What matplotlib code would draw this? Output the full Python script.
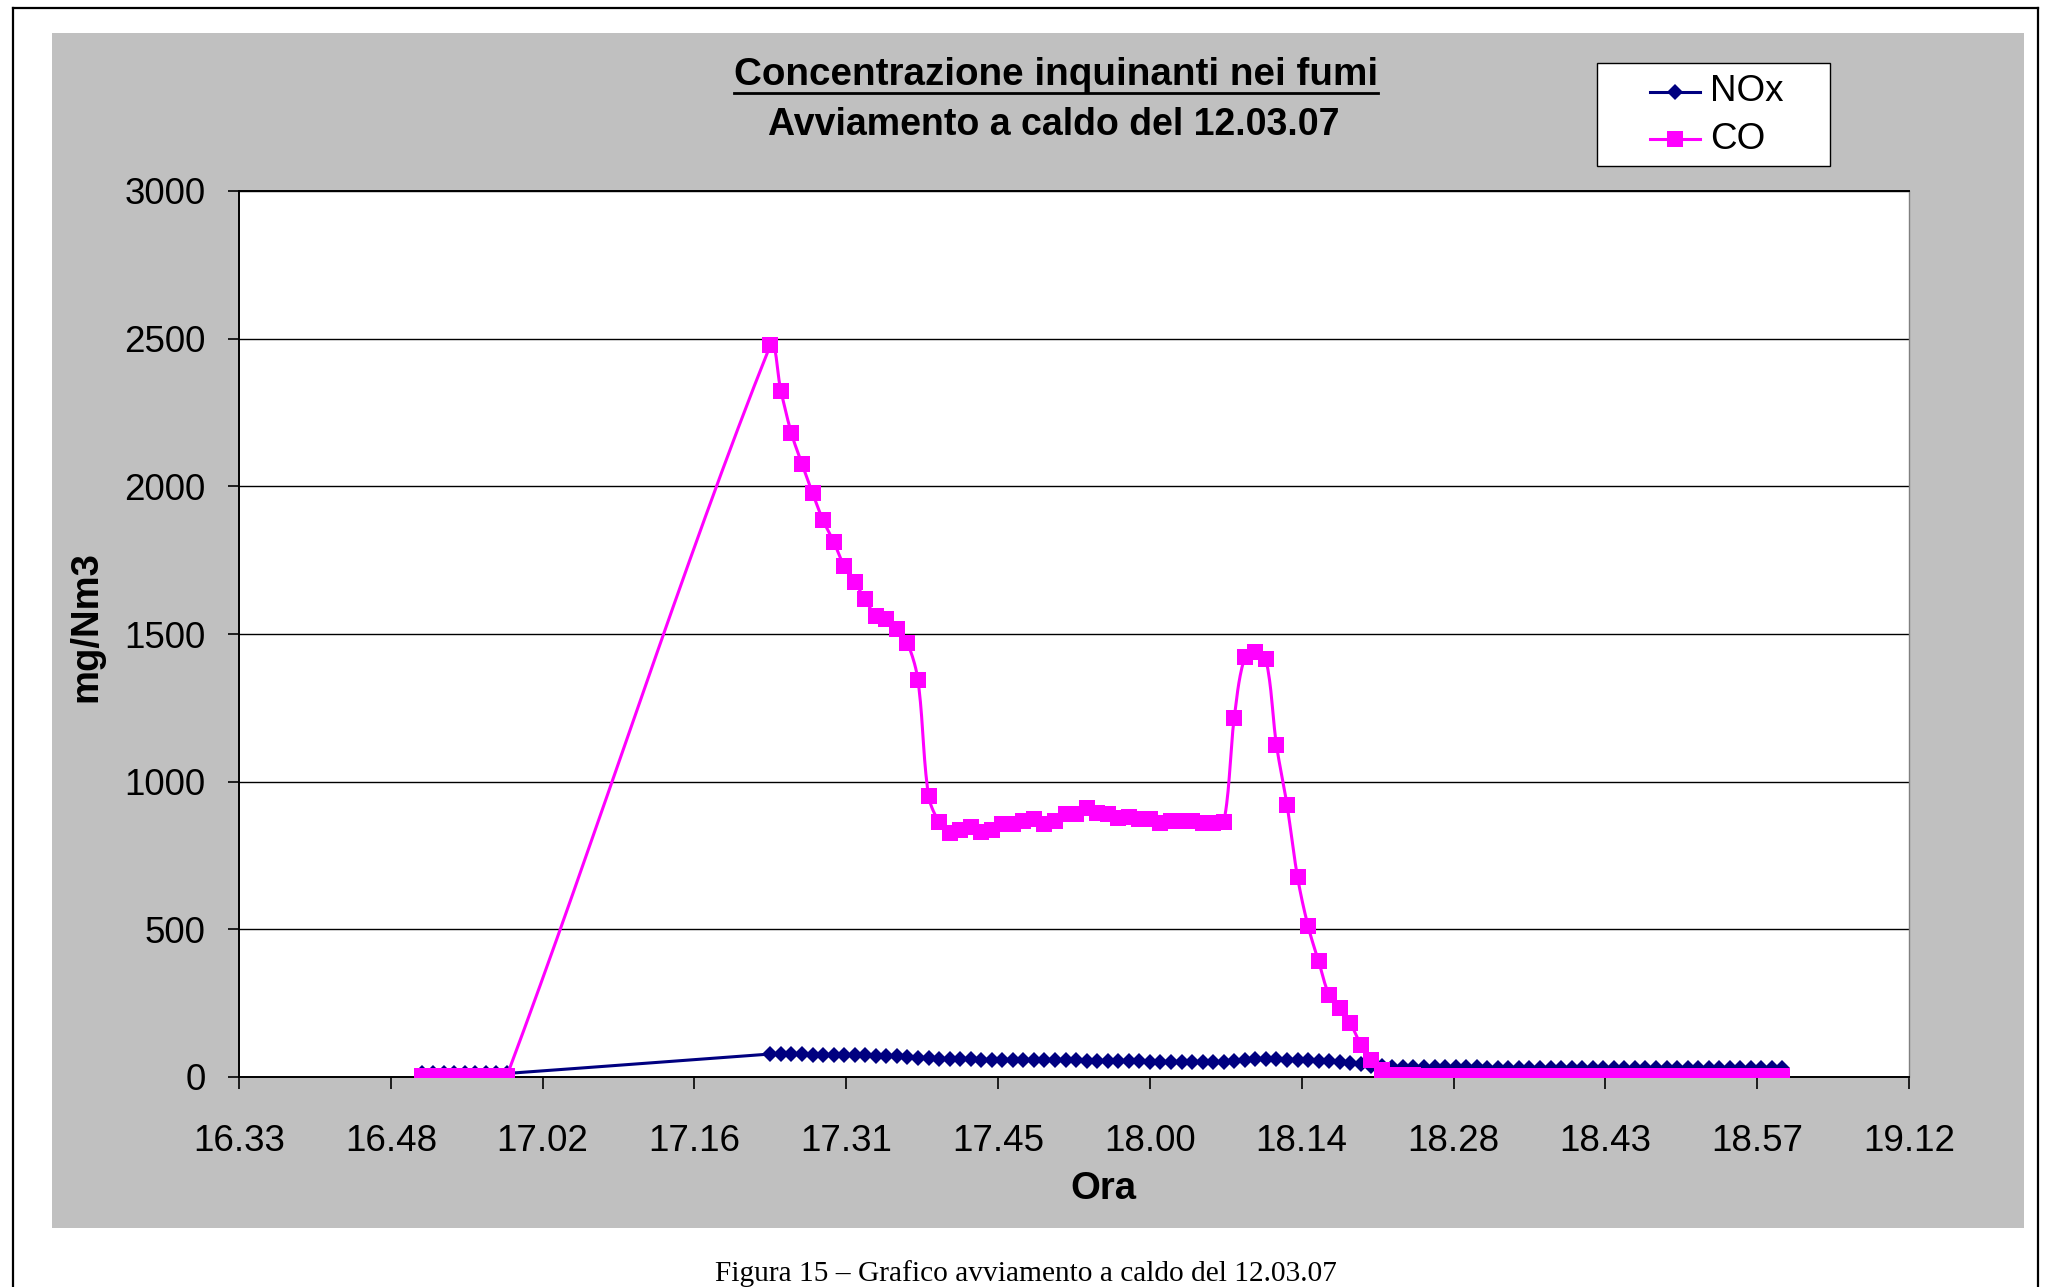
import numpy as np
import matplotlib
matplotlib.use("Agg")
import matplotlib.pyplot as plt
from matplotlib.lines import Line2D
from matplotlib.patches import Rectangle

plt.rcParams['font.family'] = ['Liberation Sans', 'DejaVu Sans']


def hm(s):
    h, m = s.split(':')
    return int(h) * 60 + int(m)


# campionamento ad 1 minuto, due tratti (dati mancanti 17:00 - 17:23)
t_first = np.arange(hm('16:51'), hm('16:59') + 1)
t_main = np.arange(hm('17:24'), hm('19:00') + 1)

nox_first = [13, 14, 13, 13, 12, 12, 13, 12, 12]
co_first = [3, 3, 3, 3, 3, 3, 3, 3, 3]

nox_main = [78, 78, 77, 77, 76, 76, 75,
            74, 73, 73, 72, 72, 70, 68,
            66, 64, 62, 61, 60, 60, 59, 58,
            58, 57, 57, 57, 56, 56, 56, 56, 55, 55, 55, 55, 54, 54,
            52, 52, 52, 52, 52, 51, 51, 51,
            55, 58, 60, 60, 60,
            58, 57, 56, 55, 53, 52, 48, 45,
            36, 36, 35, 35, 34, 34, 34, 33, 33, 33, 33, 32, 32, 32, 32, 32,
            31, 31, 31, 31, 31, 31, 30, 30, 30, 30, 30, 30, 30, 30, 30, 30,
            30, 30, 30, 30, 30, 30, 29, 29]

co_main = [2478, 2322, 2179, 2076, 1977, 1885, 1813,
           1730, 1676, 1617, 1562, 1552, 1518, 1470,
           1343, 953, 863, 827, 838, 846, 829, 837,
           857, 857, 866, 874, 857, 868, 891, 891, 911, 894, 891, 877, 882, 874,
           874, 859, 868, 866, 866, 859, 859, 862,
           1217, 1421, 1438, 1414, 1125,
           922, 677, 511, 392, 277, 232, 183, 110,
           58, 25, 8, 6, 6, 5, 4, 4, 4, 4, 4, 4, 4, 4, 4, 4,
           4, 4, 4, 4, 4, 4, 4, 4, 4, 4, 4, 4, 4, 4, 4, 4,
           4, 4, 4, 4, 4, 4, 4, 4]

xtick_days = [0.69, 0.70, 0.71, 0.72, 0.73, 0.74, 0.75, 0.76, 0.77, 0.78, 0.79, 0.80]
xtick_labels = ['16.33', '16.48', '17.02', '17.16', '17.31', '17.45',
                '18.00', '18.14', '18.28', '18.43', '18.57', '19.12']
yticks = [0, 500, 1000, 1500, 2000, 2500, 3000]

t_all = np.concatenate([t_first, t_main])
nox = np.array(nox_first + nox_main, float)
co = np.array(co_first + co_main, float)


def smooth(x, y, n=16, kx=10.54, ky=0.296):
    # linea smussata tipo Excel: bezier con tangenti pesate sulla lunghezza
    # dei segmenti (in pixel), cosi' non fa anelli sui picchi
    x = np.asarray(x, float)
    y = np.asarray(y, float)
    px, py = x * kx, y * ky
    L = np.hypot(np.diff(px), np.diff(py))
    tt = np.linspace(0, 1, n + 1)[1:]
    xs, ys = [x[0]], [y[0]]
    last = len(x) - 1

    def tangent(i):
        if i == 0:
            return x[1] - x[0], y[1] - y[0], L[0]
        if i == last:
            return x[last] - x[last - 1], y[last] - y[last - 1], L[-1]
        return x[i + 1] - x[i - 1], y[i + 1] - y[i - 1], L[i - 1] + L[i]

    for i in range(last):
        tx0, ty0, s0 = tangent(i)
        tx1, ty1, s1 = tangent(i + 1)
        f0 = L[i] / s0 / 3
        f1 = L[i] / s1 / 3
        c1x, c1y = x[i] + tx0 * f0, y[i] + ty0 * f0
        c2x, c2y = x[i + 1] - tx1 * f1, y[i + 1] - ty1 * f1
        a, b = (1 - tt) ** 3, 3 * (1 - tt) ** 2 * tt
        c, d = 3 * (1 - tt) * tt ** 2, tt ** 3
        xs.extend(a * x[i] + b * c1x + c * c2x + d * x[i + 1])
        ys.extend(a * y[i] + b * c1y + c * c2y + d * y[i + 1])
    return np.array(xs), np.array(ys)


NAVY = '#000080'
MAG = '#FF00FF'

fig = plt.figure(figsize=(20.47, 12.87), dpi=100)
W, H = 2047.0, 1287.0

# sfondo grigio dell'area grafico
fig.add_artist(Rectangle((52 / W, 1 - 1228 / H), (2024 - 52) / W, (1228 - 33) / H,
                         transform=fig.transFigure, facecolor='#C0C0C0',
                         edgecolor='none', zorder=-2))
# cornice della pagina
for xx, yy in [([13 / W, 13 / W], [0, 1 - 8 / H]),
               ([13 / W, 2038 / W], [1 - 8 / H, 1 - 8 / H]),
               ([2038 / W, 2038 / W], [1 - 8 / H, 0])]:
    fig.add_artist(Line2D(xx, yy, transform=fig.transFigure, color='black', lw=1.6))

ax = fig.add_axes([239 / W, 1 - 1077 / H, (1909 - 239) / W, (1077 - 191) / H])
ax.set_facecolor('white')

sx, sy = smooth(t_all, nox)
ax.plot(sx, sy, color=NAVY, lw=2.2, solid_joinstyle='round', zorder=3)
ax.plot(t_all, nox, ls='none', marker='D', ms=8.5, mew=0, color=NAVY, zorder=3)
sx, sy = smooth(t_all, co)
ax.plot(sx, sy, color=MAG, lw=2.2, solid_joinstyle='round', zorder=4)
ax.plot(t_all, co, ls='none', marker='s', ms=11, mew=0, color=MAG, zorder=4)

ax.set_xlim(xtick_days[0] * 1440, xtick_days[-1] * 1440)
ax.set_ylim(0, 3000)
ax.set_xticks(np.array(xtick_days) * 1440)
ax.set_xticklabels(xtick_labels)
ax.set_yticks(yticks)
ax.set_yticklabels([str(v) for v in yticks])
ax.grid(axis='y', color='black', lw=1.0)
ax.set_axisbelow(True)
ax.tick_params(axis='x', length=8.5, width=1.2, pad=25, labelsize=26.5)
ax.tick_params(axis='y', length=8, width=1.2, pad=16, labelsize=26.5)
for s in ['left', 'bottom', 'top']:
    ax.spines[s].set_color('black')
    ax.spines[s].set_linewidth(1.4)
ax.spines['right'].set_color('#808080')
ax.spines['right'].set_linewidth(1.0)

fig.text(1103 / W, 1 - 1189 / H, 'Ora', ha='center', va='center',
         fontsize=27.5, fontweight='bold')
fig.text(86 / W, 1 - 627 / H, 'mg/Nm3', ha='center', va='center', rotation=90,
         fontsize=27.5, fontweight='bold')

t1 = fig.text(1056 / W, 1 - 85 / H, 'Concentrazione inquinanti nei fumi',
              ha='center', va='baseline', fontsize=27.8, fontweight='bold')
fig.text(1054 / W, 1 - 135 / H, 'Avviamento a caldo del 12.03.07',
         ha='center', va='baseline', fontsize=27, fontweight='bold')

# legenda disegnata a mano
fig.add_artist(Rectangle((1597 / W, 1 - 166 / H), 233 / W, 103 / H,
                         transform=fig.transFigure, facecolor='white',
                         edgecolor='black', lw=1.0, zorder=5))
for yc, col, mk, ms, lab in [(91.7, NAVY, 'D', 8.5, 'NOx'), (139.3, MAG, 's', 11, 'CO')]:
    fig.add_artist(Line2D([1650 / W, 1700 / W], [1 - yc / H, 1 - yc / H],
                          transform=fig.transFigure, color=col, lw=2.2, zorder=6))
    fig.add_artist(Line2D([1675 / W], [1 - yc / H], transform=fig.transFigure,
                          ls='none', marker=mk, ms=ms, mew=0, color=col, zorder=6))
    fig.text(1710 / W, 1 - yc / H, lab, ha='left', va='center', fontsize=26.5, zorder=6)

fig.text(1026 / W, 1 - 1281 / H, 'Figura 15 \u2013 Grafico avviamento a caldo del 12.03.07',
         ha='center', va='baseline', fontsize=21.2, family=['Liberation Serif', 'DejaVu Serif'])

# sottolineatura del titolo
fig.canvas.draw()
bb = t1.get_window_extent()
fig.add_artist(Line2D([bb.x0 / W, bb.x1 / W], [1 - 93 / H, 1 - 93 / H],
                      transform=fig.transFigure, color='black', lw=2.0))

fig.savefig('out.png', dpi=100)
